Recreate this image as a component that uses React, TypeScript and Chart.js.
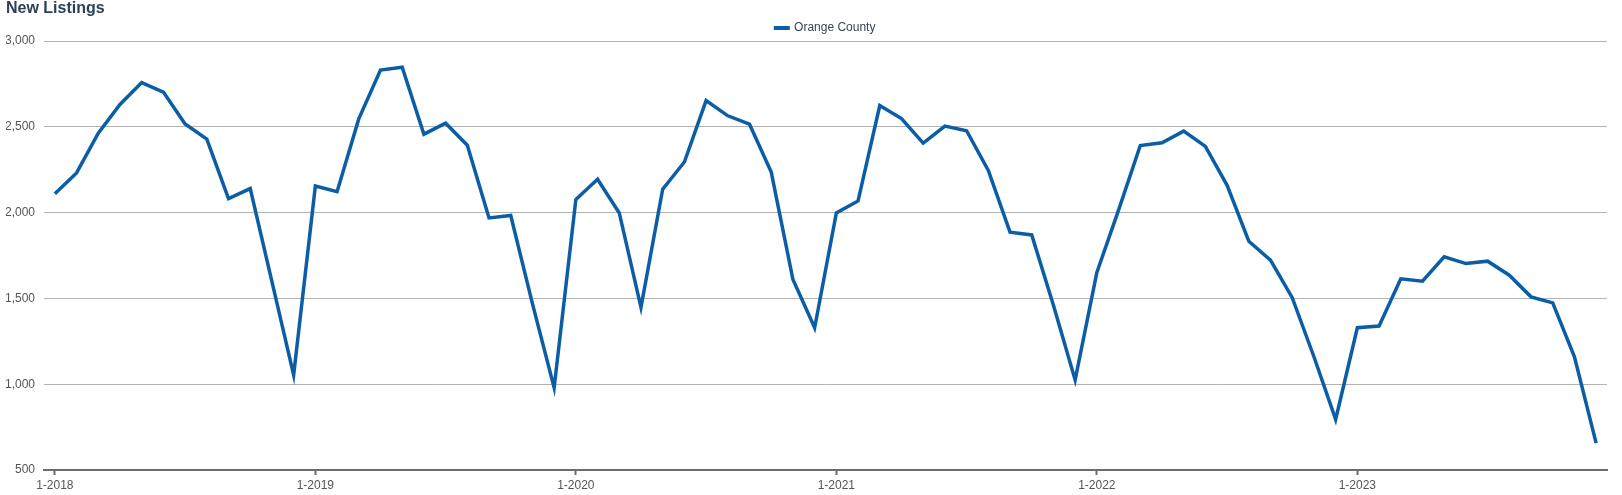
import React, { useEffect, useRef } from "react";
import { Chart, registerables } from "chart.js";

Chart.register(...registerables);

const TITLE = "New Listings";
const SERIES_NAME = "Orange County";
const YEARS = [2018, 2019, 2020, 2021, 2022, 2023];
const MONTH_LABELS: string[] = YEARS.flatMap((y) =>
  Array.from({ length: 12 }, (_, m) => `${m + 1}-${y}`)
);

const VALUES_2018 = [2110, 2231, 2463, 2630, 2758, 2702, 2517, 2428, 2081, 2140, 1598, 1054];
const VALUES_2019 = [2155, 2122, 2546, 2831, 2847, 2457, 2521, 2393, 1969, 1983, 1470, 979];
const VALUES_2020 = [2076, 2194, 1998, 1448, 2136, 2295, 2653, 2564, 2515, 2236, 1610, 1329];
const VALUES_2021 = [1998, 2068, 2624, 2548, 2405, 2504, 2477, 2246, 1886, 1870, 1460, 1025];
const VALUES_2022 = [1651, 2014, 2391, 2407, 2475, 2386, 2159, 1833, 1723, 1504, 1160, 795];
const VALUES_2023 = [1329, 1339, 1614, 1600, 1742, 1703, 1717, 1635, 1509, 1474, 1160, 657];

const SERIES_VALUES = [
  ...VALUES_2018,
  ...VALUES_2019,
  ...VALUES_2020,
  ...VALUES_2021,
  ...VALUES_2022,
  ...VALUES_2023,
];

const Y_MIN = 500;
const Y_MAX = 3000;
const Y_STEP = 500;

const LINE_COLOR = "#0b5ea5";
const TEXT_COLOR = "#555555";

export default function App() {
  const canvasRef = useRef<HTMLCanvasElement | null>(null);

  useEffect(() => {
    document.body.style.margin = "0";
    const canvas = canvasRef.current;
    if (!canvas) return;
    Chart.defaults.font.family = 'Arial, "Liberation Sans", sans-serif';
    const chart = new Chart(canvas, {
      type: "line",
      data: {
        labels: MONTH_LABELS,
        datasets: [
          {
            label: SERIES_NAME,
            data: SERIES_VALUES,
            borderColor: LINE_COLOR,
            backgroundColor: LINE_COLOR,
            borderWidth: 3.5,
            pointRadius: 0,
            pointHoverRadius: 0,
            tension: 0,
            fill: false,
          },
        ],
      },
      options: {
        animation: false,
        responsive: true,
        maintainAspectRatio: false,
        layout: { padding: { left: 6, right: 15, top: 0, bottom: 0 } },
        plugins: {
          title: {
            display: true,
            text: TITLE,
            align: "start",
            color: "#2d4059",
            font: { size: 16, weight: "bold", lineHeight: 1 },
            padding: { top: 1, bottom: 0 },
          },
          legend: {
            display: true,
            position: "top",
            fullSize: false,
            maxHeight: 24,
            labels: {
              boxWidth: 12.5,
              boxHeight: 0.5,
              padding: 5,
              color: "#3a4550",
              font: { size: 12 },
            },
          },
          tooltip: { enabled: false },
        },
        scales: {
          x: {
            type: "category",
            offset: true,
            grid: {
              drawOnChartArea: false,
              drawTicks: true,
              tickLength: 5,
              tickWidth: 2,
              tickColor: (ctx: any) => (ctx.index % 12 === 0 ? "#6d6d6d" : "rgba(0,0,0,0)"),
            },
            border: { display: true, color: "#6d6d6d", width: 2 },
            ticks: {
              autoSkip: false,
              maxRotation: 0,
              minRotation: 0,
              padding: 3,
              color: TEXT_COLOR,
              font: { size: 12 },
              callback: (_v: any, i: number) => (i % 12 === 0 ? MONTH_LABELS[i] : ""),
            },
            afterFit: (axis: any) => {
              axis.height = 25;
            },
          },
          y: {
            min: Y_MIN,
            max: Y_MAX,
            ticks: {
              stepSize: Y_STEP,
              padding: 9,
              color: TEXT_COLOR,
              font: { size: 12 },
              callback: (v: any) => Number(v).toLocaleString("en-US"),
            },
            grid: { color: "#b3b3b3", lineWidth: 1, drawTicks: false },
            border: { display: false },
            afterFit: (axis: any) => {
              axis.width = 38;
            },
          },
        },
      },
    });
    return () => chart.destroy();
  }, []);

  return (
    <div style={{ position: "relative", width: "1622px", height: "495px" }}>
      <canvas ref={canvasRef} />
    </div>
  );
}
